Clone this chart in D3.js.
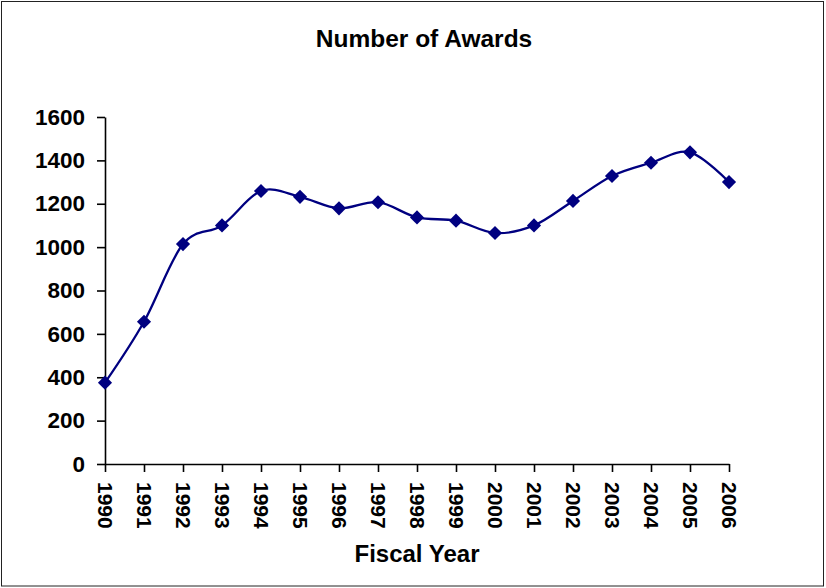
<!DOCTYPE html>
<html>
<head>
<meta charset="utf-8">
<script src="https://cdn.jsdelivr.net/npm/d3@7"></script>
<style>
  html, body { margin: 0; padding: 0; background: #fff; }
  svg { display: block; font-family: "Liberation Sans", Arial, sans-serif; }
</style>
</head>
<body>
<div id="chart"></div>
<script>
// fiscal years and award counts
const years = [1990, 1991, 1992, 1993, 1994, 1995, 1996, 1997, 1998,
               1999, 2000, 2001, 2002, 2003, 2004, 2005, 2006]
const awards = [375, 656, 1014, 1100, 1259, 1232, 1179, 1207, 1137,
                1122, 1065, 1100, 1213, 1328, 1389, 1437, 1300]
const yTicks = [0, 200, 400, 600, 800, 1000, 1200, 1400, 1600]

const chartTitle = "Number of Awards"
const xTitle = "Fiscal Year"

function createCanvas(){
    return {
        width: 826, height: 588,
        left: 105, right: 729, top: 117, bottom: 464
    }
}

function addSvg(id, canvas){
    d3.select(id).html("")
    return d3.select(id).append("svg")
        .attr("width", canvas.width).attr("height", canvas.height)
}

function addBorder(svg, canvas){
    svg.append("rect").attr("x", 1.5).attr("y", 1.5)
        .attr("width", canvas.width - 4).attr("height", canvas.height - 3.5)
        .attr("fill", "none").attr("stroke", "#222").attr("stroke-width", 1)
}

function addTitles(svg){
    svg.append("text").attr("x", 424).attr("y", 47).attr("text-anchor", "middle")
        .attr("font-size", "24.5px").attr("font-weight", "bold").text(chartTitle)

    svg.append("text").attr("x", 417).attr("y", 562).attr("text-anchor", "middle")
        .attr("font-size", "24px").attr("font-weight", "bold").text(xTitle)
}

function addAxes(svg, x, y, canvas){
    const yAxis = d3.axisLeft(y).tickValues(yTicks).tickSize(8).tickPadding(12)
        .tickSizeOuter(0).tickFormat(d3.format("d"))
    const gy = svg.append("g").attr("transform", `translate(${canvas.left},0)`).call(yAxis)
    gy.select(".domain").attr("stroke", "#000").attr("stroke-width", 1.6)
    gy.selectAll(".tick line").attr("stroke", "#000").attr("stroke-width", 1.6)
    gy.selectAll(".tick text").attr("font-size", "22.5px").attr("font-weight", "bold")
        .attr("fill", "#000").attr("font-family", "Liberation Sans, Arial, sans-serif")

    const xAxis = d3.axisBottom(x).tickValues(years).tickSize(8).tickSizeOuter(0)
        .tickFormat(d3.format("d"))
    const gx = svg.append("g").attr("transform", `translate(0,${canvas.bottom})`).call(xAxis)
    gx.select(".domain").attr("stroke", "#000").attr("stroke-width", 1.6)
    gx.selectAll(".tick line").attr("stroke", "#000").attr("stroke-width", 1.6)
    gx.selectAll(".tick text")
        .attr("font-size", "21px").attr("font-weight", "bold").attr("fill", "#000")
        .attr("font-family", "Liberation Sans, Arial, sans-serif")
        .attr("text-anchor", "start")
        .attr("x", 0).attr("y", 0).attr("dy", "0.35em")
        .attr("transform", "translate(0,18) rotate(90)")
}

function addLine(svg, x, y){
    const pts = years.map((yr, i) => ({ year: yr, value: awards[i] }))

    const line = d3.line()
        .x(d => x(d.year)).y(d => y(d.value))
        .curve(d3.curveCatmullRom.alpha(0))

    svg.append("path").datum(pts).attr("d", line)
        .attr("fill", "none").attr("stroke", "#000080").attr("stroke-width", 2.3)

    const diamond = d3.symbol().type(d3.symbolSquare).size(100)
    svg.selectAll(".marker").data(pts).enter().append("path").attr("class", "marker")
        .attr("d", diamond)
        .attr("transform", d => `translate(${x(d.year)},${y(d.value)}) rotate(45)`)
        .attr("fill", "#000080")
}

function drawChart(id){
    const canvas = createCanvas()
    const svg = addSvg(id, canvas)

    const x = d3.scaleLinear().domain([years[0], years[years.length - 1]])
        .range([canvas.left, canvas.right])
    const y = d3.scaleLinear().domain([0, 1600]).range([canvas.bottom, canvas.top])

    addBorder(svg, canvas)
    addTitles(svg)
    addAxes(svg, x, y, canvas)
    addLine(svg, x, y)
}

drawChart("#chart")
</script>
</body>
</html>
